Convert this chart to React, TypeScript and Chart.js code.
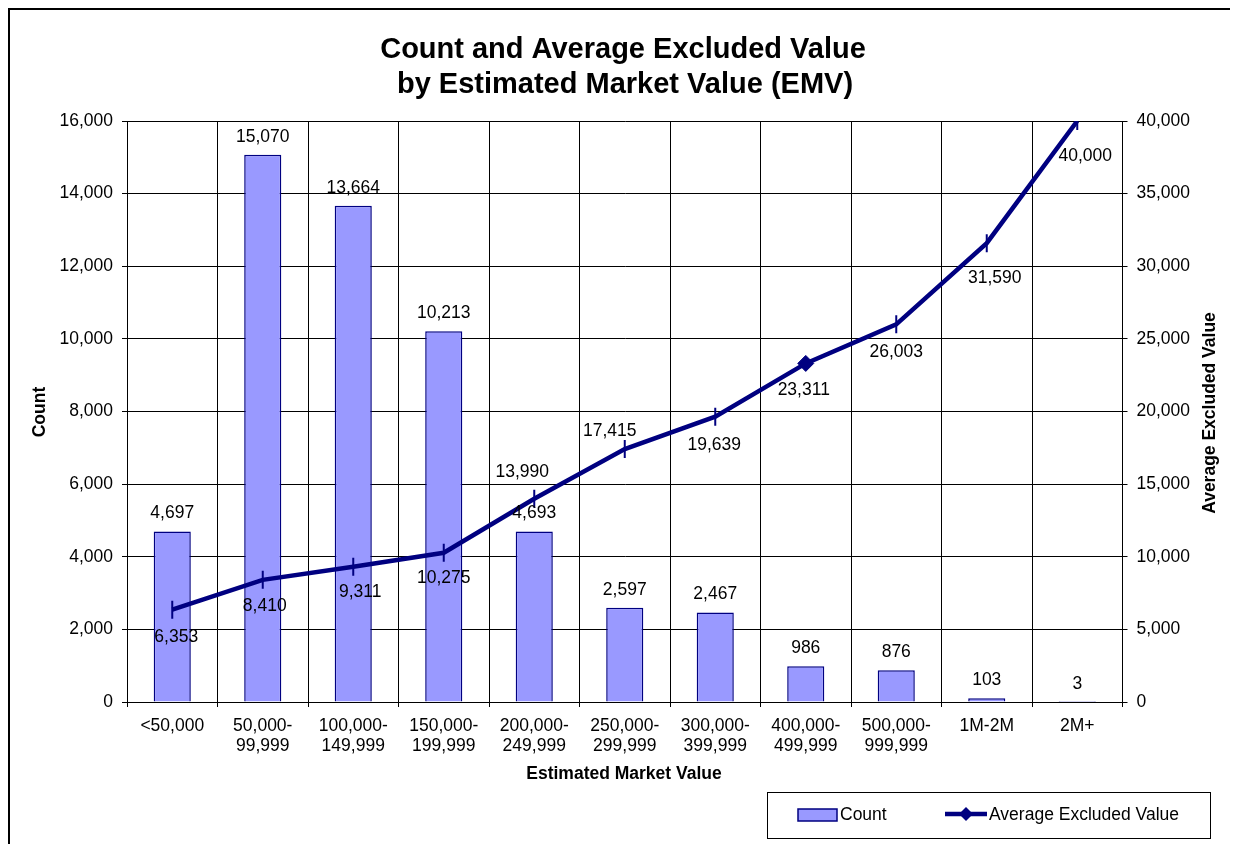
import React, { useEffect, useRef } from "react";
import { Chart, registerables } from "chart.js";

Chart.register(...registerables);

// ---- Data ----
const categories: string[][] = [
  ["<50,000"],
  ["50,000-", "99,999"],
  ["100,000-", "149,999"],
  ["150,000-", "199,999"],
  ["200,000-", "249,999"],
  ["250,000-", "299,999"],
  ["300,000-", "399,999"],
  ["400,000-", "499,999"],
  ["500,000-", "999,999"],
  ["1M-2M"],
  ["2M+"],
];
const countValues = [4697, 15070, 13664, 10213, 4693, 2597, 2467, 986, 876, 103, 3];
const avgExcludedValues = [6353, 8410, 9311, 10275, 13990, 17415, 19639, 23311, 26003, 31590, 40000];

const countAxisMax = 16000;
const countAxisStep = 2000;
const avgAxisMax = 40000;
const avgAxisStep = 5000;

const titleLines = ["Count and Average Excluded Value", "by Estimated Market Value (EMV)"];
const xAxisTitle = "Estimated Market Value";
const leftAxisTitle = "Count";
const rightAxisTitle = "Average Excluded Value";
const countLabel = "Count";
const avgLabel = "Average Excluded Value";

// ---- Styles ----
const FONT = "'Liberation Sans', Arial, Helvetica, sans-serif";
const NAVY = "#000080";
const BAR_FILL = "#9999FF";
const W = 1230;
const H = 836;
const FS = 17.5;

const lineLabelDx = [4, 2, 7, 0, -12, -15, -1, -2, 0, 8, 8];
const lineLabelDy = [27, 26, 25, 25, -27, -18, 28, 27, 28, 35, 35];
const highlightIndex = 7;

const fmt = (v: number) => Number(v).toLocaleString("en-US");

const decorPlugin = {
  id: "decor",
  beforeDraw(chart: any) {
    const ctx = chart.ctx as CanvasRenderingContext2D;
    ctx.save();
    ctx.fillStyle = "#fff";
    ctx.fillRect(0, 0, W, H);
    ctx.strokeStyle = "#000";
    ctx.lineWidth = 2;
    ctx.beginPath();
    ctx.moveTo(1, H);
    ctx.lineTo(1, 1);
    ctx.lineTo(W, 1);
    ctx.stroke();
    ctx.restore();
  },
  afterDatasetsDraw(chart: any) {
    const ctx = chart.ctx as CanvasRenderingContext2D;
    ctx.save();
    ctx.fillStyle = "#000";
    ctx.font = `${FS}px ${FONT}`;
    ctx.textAlign = "center";
    ctx.textBaseline = "middle";
    const barMeta = chart.getDatasetMeta(0);
    barMeta.data.forEach((el: any, i: number) => {
      ctx.fillText(fmt(countValues[i]), el.x, el.y - 18);
    });
    const lineMeta = chart.getDatasetMeta(1);
    lineMeta.data.forEach((el: any, i: number) => {
      ctx.fillText(fmt(avgExcludedValues[i]), el.x + lineLabelDx[i], el.y + lineLabelDy[i]);
    });
    ctx.restore();
  },
  afterDraw(chart: any) {
    const ctx = chart.ctx as CanvasRenderingContext2D;
    ctx.save();
    ctx.fillStyle = "#000";
    // Title
    ctx.font = `bold 29px ${FONT}`;
    ctx.textAlign = "center";
    ctx.textBaseline = "alphabetic";
    ctx.fillText(titleLines[0], 615, 50);
    ctx.fillText(titleLines[1], 617, 85);
    // Axis titles
    ctx.font = `bold ${FS}px ${FONT}`;
    ctx.textBaseline = "middle";
    ctx.fillText(xAxisTitle, 616, 766);
    ctx.save();
    ctx.translate(32, 404);
    ctx.rotate(-Math.PI / 2);
    ctx.fillText(leftAxisTitle, 0, 0);
    ctx.restore();
    ctx.save();
    ctx.translate(1202, 405);
    ctx.rotate(-Math.PI / 2);
    ctx.fillText(rightAxisTitle, 0, 0);
    ctx.restore();
    // Legend
    ctx.strokeStyle = "#000";
    ctx.lineWidth = 1;
    ctx.strokeRect(759.5, 784.5, 443, 46);
    ctx.fillStyle = BAR_FILL;
    ctx.fillRect(790, 801, 39, 12);
    ctx.strokeStyle = NAVY;
    ctx.lineWidth = 1.5;
    ctx.strokeRect(790, 801, 39, 12);
    ctx.beginPath();
    ctx.lineWidth = 4.5;
    ctx.moveTo(937, 806);
    ctx.lineTo(979, 806);
    ctx.stroke();
    ctx.fillStyle = NAVY;
    ctx.beginPath();
    ctx.moveTo(958, 799);
    ctx.lineTo(965, 806);
    ctx.lineTo(958, 813);
    ctx.lineTo(951, 806);
    ctx.closePath();
    ctx.fill();
    ctx.fillStyle = "#000";
    ctx.font = `${FS}px ${FONT}`;
    ctx.textAlign = "left";
    ctx.fillText(countLabel, 832, 807);
    ctx.fillText(avgLabel, 981, 807);
    ctx.restore();
  },
};

export default function App() {
  const ref = useRef<HTMLCanvasElement | null>(null);
  useEffect(() => {
    if (!ref.current) return;
    Chart.defaults.font.family = FONT;
    Chart.defaults.color = "#000";
    const chart = new Chart(ref.current, {
      type: "bar",
      data: {
        labels: categories,
        datasets: [
          {
            type: "bar",
            label: countLabel,
            data: countValues,
            backgroundColor: BAR_FILL,
            borderColor: NAVY,
            borderWidth: 1.5,
            categoryPercentage: 1,
            barPercentage: 0.41,
            yAxisID: "y",
            order: 2,
          },
          {
            type: "line",
            label: avgLabel,
            data: avgExcludedValues,
            borderColor: NAVY,
            backgroundColor: NAVY,
            borderWidth: 4.5,
            tension: 0,
            pointStyle: avgExcludedValues.map((_, i) => (i === highlightIndex ? "rectRot" : "line")),
            pointRadius: avgExcludedValues.map((_, i) => (i === highlightIndex ? 8 : 9)),
            pointBorderWidth: avgExcludedValues.map((_, i) => (i === highlightIndex ? 1 : 2)),
            pointRotation: 90,
            pointBackgroundColor: NAVY,
            pointBorderColor: NAVY,
            yAxisID: "y1",
            order: 1,
          } as any,
        ],
      },
      options: {
        responsive: false,
        animation: false,
        events: [],
        layout: { padding: { top: 113, left: 0, right: 0, bottom: 0 } },
        plugins: {
          legend: { display: false },
          title: { display: false },
          tooltip: { enabled: false },
        },
        scales: {
          x: {
            offset: true,
            grid: { color: "#000", lineWidth: 1, offset: true, tickLength: 5, drawTicks: true },
            border: { color: "#000", width: 1 },
            ticks: {
              color: "#000",
              font: { size: FS, lineHeight: 1.15 },
              padding: 9,
              maxRotation: 0,
              minRotation: 0,
              autoSkip: false,
            },
            afterFit: (s: any) => {
              s.height = 142;
            },
          },
          y: {
            position: "left",
            min: 0,
            max: countAxisMax,
            ticks: { stepSize: countAxisStep, color: "#000", font: { size: FS }, padding: 9, callback: (v: any) => fmt(v) },
            grid: { color: "#000", lineWidth: 1, tickLength: 5 },
            border: { color: "#000", width: 1 },
            afterFit: (s: any) => {
              s.width = 119;
            },
          },
          y1: {
            position: "right",
            min: 0,
            max: avgAxisMax,
            ticks: { stepSize: avgAxisStep, color: "#000", font: { size: FS }, padding: 9, callback: (v: any) => fmt(v) },
            grid: { color: "#000", lineWidth: 1, tickLength: 5, drawOnChartArea: false },
            border: { color: "#000", width: 1 },
            afterFit: (s: any) => {
              s.width = 115.5;
            },
          },
        },
      },
      plugins: [decorPlugin],
    });
    return () => chart.destroy();
  }, []);
  return (
    <div style={{ width: W, height: H }}>
      <canvas ref={ref} width={W} height={H} style={{ display: "block", width: W, height: H }} />
    </div>
  );
}
